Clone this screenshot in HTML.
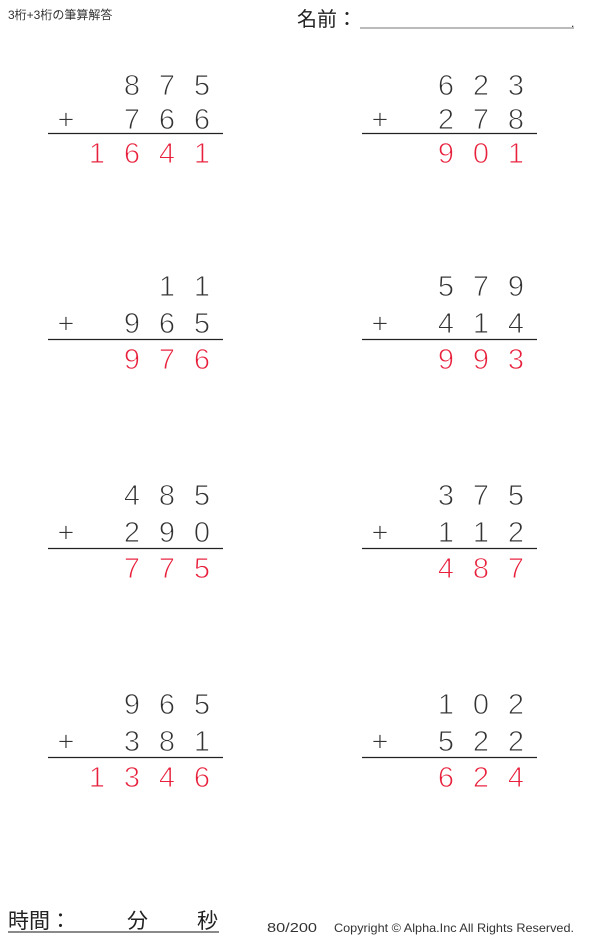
<!DOCTYPE html>
<html><head><meta charset="utf-8"><style>
html,body{margin:0;padding:0;background:#fff;}
svg{display:block}
</style></head><body>
<svg width="600" height="938" xmlns="http://www.w3.org/2000/svg" font-family="Liberation Sans, Noto Sans CJK JP, sans-serif">
<text x="8" y="19" font-size="12" fill="#333">3桁+3桁の筆算解答</text>
<text x="297" y="26" font-size="20" fill="#222">名前：</text>
<line x1="360" y1="28" x2="574" y2="28" stroke="#777" stroke-width="1"/>
<text x="571" y="27" font-size="12" fill="#222">.</text>
<g font-size="29" text-anchor="middle" fill="#333" stroke="#fff" stroke-width="0.9">
<!-- block 1 -->
<text x="132" y="95">8</text><text x="167" y="95">7</text><text x="202" y="95">5</text>
<text x="66" y="129">+</text><text x="132" y="129">7</text><text x="167" y="129">6</text><text x="202" y="129">6</text>
<g fill="#e8203c"><text x="97" y="163">1</text><text x="132" y="163">6</text><text x="167" y="163">4</text><text x="202" y="163">1</text></g>
<text x="446" y="95">6</text><text x="481" y="95">2</text><text x="516" y="95">3</text>
<text x="380" y="129">+</text><text x="446" y="129">2</text><text x="481" y="129">7</text><text x="516" y="129">8</text>
<g fill="#e8203c"><text x="446" y="163">9</text><text x="481" y="163">0</text><text x="516" y="163">1</text></g>
<!-- block 2 -->
<text x="167" y="296">1</text><text x="202" y="296">1</text>
<text x="66" y="333">+</text><text x="132" y="333">9</text><text x="167" y="333">6</text><text x="202" y="333">5</text>
<g fill="#e8203c"><text x="132" y="369">9</text><text x="167" y="369">7</text><text x="202" y="369">6</text></g>
<text x="446" y="296">5</text><text x="481" y="296">7</text><text x="516" y="296">9</text>
<text x="380" y="333">+</text><text x="446" y="333">4</text><text x="481" y="333">1</text><text x="516" y="333">4</text>
<g fill="#e8203c"><text x="446" y="369">9</text><text x="481" y="369">9</text><text x="516" y="369">3</text></g>
<!-- block 3 -->
<text x="132" y="505">4</text><text x="167" y="505">8</text><text x="202" y="505">5</text>
<text x="66" y="542">+</text><text x="132" y="542">2</text><text x="167" y="542">9</text><text x="202" y="542">0</text>
<g fill="#e8203c"><text x="132" y="578">7</text><text x="167" y="578">7</text><text x="202" y="578">5</text></g>
<text x="446" y="505">3</text><text x="481" y="505">7</text><text x="516" y="505">5</text>
<text x="380" y="542">+</text><text x="446" y="542">1</text><text x="481" y="542">1</text><text x="516" y="542">2</text>
<g fill="#e8203c"><text x="446" y="578">4</text><text x="481" y="578">8</text><text x="516" y="578">7</text></g>
<!-- block 4 -->
<text x="132" y="714">9</text><text x="167" y="714">6</text><text x="202" y="714">5</text>
<text x="66" y="751">+</text><text x="132" y="751">3</text><text x="167" y="751">8</text><text x="202" y="751">1</text>
<g fill="#e8203c"><text x="97" y="787">1</text><text x="132" y="787">3</text><text x="167" y="787">4</text><text x="202" y="787">6</text></g>
<text x="446" y="714">1</text><text x="481" y="714">0</text><text x="516" y="714">2</text>
<text x="380" y="751">+</text><text x="446" y="751">5</text><text x="481" y="751">2</text><text x="516" y="751">2</text>
<g fill="#e8203c"><text x="446" y="787">6</text><text x="481" y="787">2</text><text x="516" y="787">4</text></g>
</g>
<g stroke="#222" stroke-width="1.3">
<line x1="48" y1="133.5" x2="223" y2="133.5"/><line x1="362" y1="133.5" x2="537" y2="133.5"/>
<line x1="48" y1="339.5" x2="223" y2="339.5"/><line x1="362" y1="339.5" x2="537" y2="339.5"/>
<line x1="48" y1="548.5" x2="223" y2="548.5"/><line x1="362" y1="548.5" x2="537" y2="548.5"/>
<line x1="48" y1="757.5" x2="223" y2="757.5"/><line x1="362" y1="757.5" x2="537" y2="757.5"/>
</g>
<text x="8" y="928" font-size="21" fill="#222">時間：</text>
<text x="127" y="928" font-size="21" fill="#222">分</text>
<text x="197" y="928" font-size="21" fill="#222">秒</text>
<line x1="8" y1="932" x2="219" y2="932" stroke="#444" stroke-width="1.2"/>
<text x="267" y="932" font-size="13" fill="#333" textLength="50" lengthAdjust="spacingAndGlyphs">80/200</text>
<text x="334" y="932" font-size="12" fill="#333" textLength="240" lengthAdjust="spacingAndGlyphs">Copyright © Alpha.Inc All Rights Reserved.</text>
</svg>
</body></html>
